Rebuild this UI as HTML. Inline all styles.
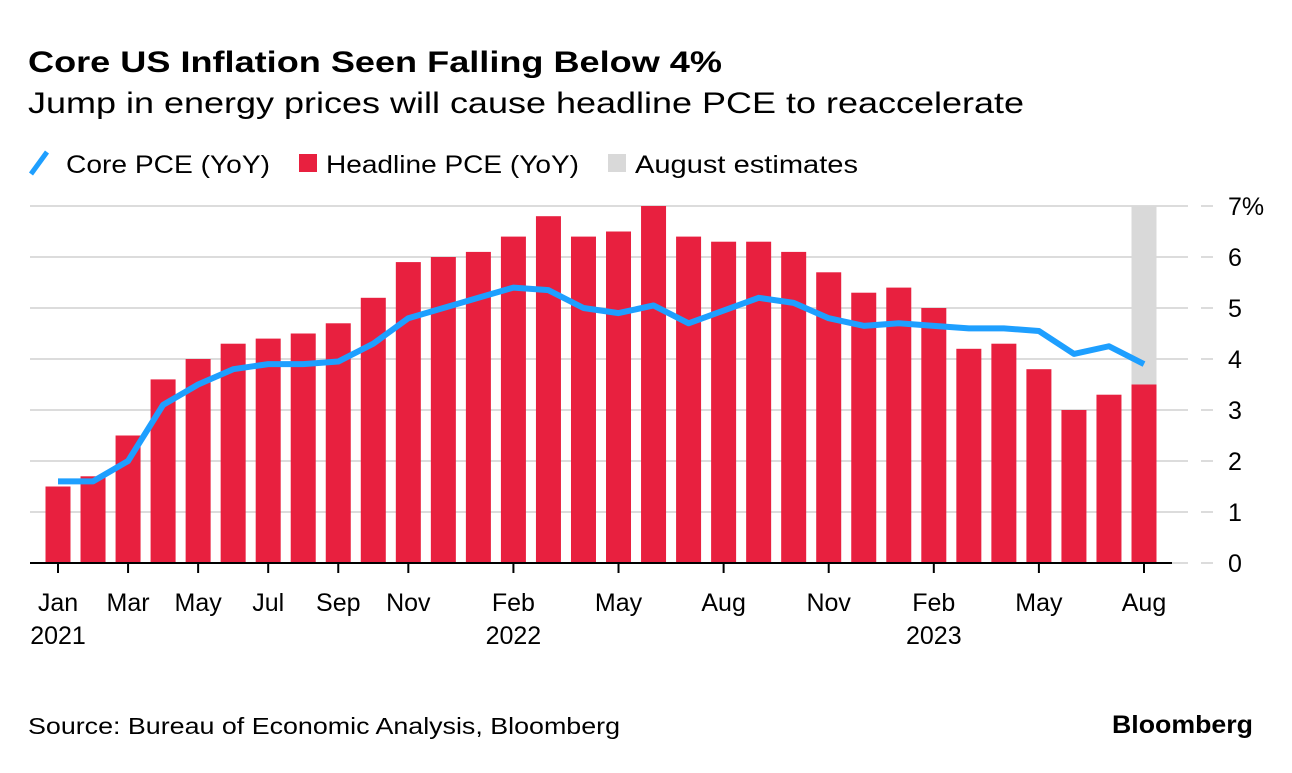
<!DOCTYPE html>
<html><head><meta charset="utf-8"><style>
body{margin:0;background:#fff;font-family:"Liberation Sans",sans-serif;}
svg text{font-family:"Liberation Sans",sans-serif;}
</style></head><body>
<svg id="c" width="1292" height="768">
<text x="28" y="72" font-size="30" font-weight="bold" fill="#000" textLength="694" lengthAdjust="spacingAndGlyphs">Core US Inflation Seen Falling Below 4%</text>
<text x="28" y="113" font-size="30" fill="#000" textLength="996" lengthAdjust="spacingAndGlyphs">Jump in energy prices will cause headline PCE to reaccelerate</text>
<g>
<line x1="31" y1="174" x2="47" y2="152" stroke="#1e9fff" stroke-width="5"/>
<text x="66" y="173" font-size="25" textLength="204" lengthAdjust="spacingAndGlyphs">Core PCE (YoY)</text>
<rect x="299" y="154" width="18" height="18" fill="#e8203f"/>
<text x="326" y="173" font-size="25" textLength="253" lengthAdjust="spacingAndGlyphs">Headline PCE (YoY)</text>
<rect x="608" y="154" width="18" height="18" fill="#d9d9d9"/>
<text x="635" y="173" font-size="25" textLength="223" lengthAdjust="spacingAndGlyphs">August estimates</text>
</g>
<g id="plot"></g>
<text x="28" y="734" font-size="23" textLength="592" lengthAdjust="spacingAndGlyphs">Source: Bureau of Economic Analysis, Bloomberg</text>
<text x="1112" y="733" font-size="25" font-weight="bold" textLength="141" lengthAdjust="spacingAndGlyphs">Bloomberg</text>
</svg>
<script>
const headline=[1.5,1.7,2.5,3.6,4.0,4.3,4.4,4.5,4.7,5.2,5.9,6.0,6.1,6.4,6.8,6.4,6.5,7.0,6.4,6.3,6.3,6.1,5.7,5.3,5.4,5.0,4.2,4.3,3.8,3.0,3.3,3.5];
const core=[1.6,1.6,2.0,3.1,3.5,3.8,3.9,3.9,3.95,4.3,4.8,5.0,5.2,5.4,5.35,5.0,4.9,5.05,4.7,4.95,5.2,5.1,4.8,4.65,4.7,4.65,4.6,4.6,4.55,4.1,4.25,3.9];
const yTicks=[0,1,2,3,4,5,6,7];
const xTickIdx=[0,2,4,6,8,10,13,16,19,22,25,28,31];
const xTickLabels=["Jan","Mar","May","Jul","Sep","Nov","Feb","May","Aug","Nov","Feb","May","Aug"];
const yearIdx=[0,13,25];
const yearLabels=["2021","2022","2023"];
const estimateIdx=31;
const NS="http://www.w3.org/2000/svg";
const g=document.getElementById('plot');
const x=i=>58+i*(1144-58)/31;
const y=v=>563-v*(563-206)/7;
function mk(t,a){const e=document.createElementNS(NS,t);for(const k in a)e.setAttribute(k,a[k]);g.appendChild(e);return e;}
yTicks.forEach(v=>{
 let l=mk('line',{x1:30,x2:1188,y1:y(v),y2:y(v),stroke:'#dcdcdc','stroke-width':2});
 
 
 let d=mk('line',{x1:1201,x2:1213,y1:y(v),y2:y(v),stroke:'#dcdcdc','stroke-width':2});
 
 
 let t=mk('text',{x:1228,y:y(v)+9,'font-size':25});
 t.textContent=v+(v===7?'%':'');
 
 
});
const bw=25;
let est=mk('rect',{x:x(estimateIdx)-bw/2,y:y(7),width:bw,height:y(0)-y(7),fill:'#d9d9d9'});


headline.forEach((v,i)=>{
 let r=mk('rect',{x:x(i)-bw/2,y:y(v),width:bw,height:y(0)-y(v),fill:'#e8203f'});
 
 
});
let ax=mk('line',{x1:30,x2:1172,y1:y(0),y2:y(0),stroke:'#000','stroke-width':2});


let p=mk('polyline',{points:core.map((v,i)=>x(i)+','+y(v)).join(' '),fill:'none',stroke:'#1e9fff','stroke-width':6,'stroke-linejoin':'round'});


xTickIdx.forEach((i,k)=>{
 let t=mk('line',{x1:x(i),x2:x(i),y1:y(0),y2:y(0)+10,stroke:'#000','stroke-width':2});
 
 
 let l=mk('text',{x:x(i),y:611,'font-size':25,'text-anchor':'middle'});
 l.textContent=xTickLabels[k];
 
 
});
yearIdx.forEach((i,k)=>{
 let l=mk('text',{x:x(i),y:644,'font-size':25,'text-anchor':'middle'});
 l.textContent=yearLabels[k];
 
 
});
</script>
</body></html>
